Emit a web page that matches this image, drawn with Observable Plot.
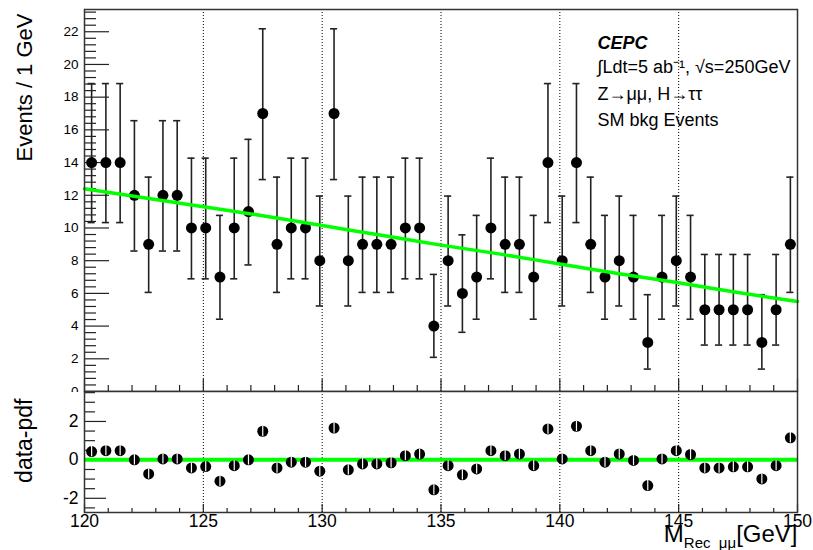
<!DOCTYPE html>
<html><head><meta charset="utf-8">
<script src="https://cdn.jsdelivr.net/npm/d3@7"></script>
<script src="https://cdn.jsdelivr.net/npm/@observablehq/plot@0.6"></script>
<style>
body{margin:0;background:#fff;}
#chart{position:relative;width:813px;height:550px;font-family:"Liberation Sans",Arial,Helvetica,sans-serif;}
#topPanel,#bottomPanel{position:absolute;left:0;}
#topPanel{top:0;}
#bottomPanel{top:390px;}
</style></head><body>
<div id="chart"><div id="topPanel"></div><div id="bottomPanel"></div></div>
<script>
// ---- data ----
const binLow = 120, binWidth = 0.6;
const counts = [14,14,14,12,9,12,12,10,10,7,10,11,17,9,10,10,8,17,8,9,9,9,10,10,4,8,6,7,10,9,9,7,14,8,14,9,7,8,7,3,7,8,7,5,5,5,5,3,5,9];
const pulls = [0.43,0.48,0.48,0.0,-0.73,0.05,0.05,-0.42,-0.35,-1.11,-0.3,0.0,1.49,-0.42,-0.12,-0.12,-0.59,1.66,-0.52,-0.21,-0.21,-0.15,0.22,0.3,-1.56,-0.3,-0.78,-0.47,0.48,0.22,0.31,-0.3,1.61,0.05,1.75,0.48,-0.12,0.31,-0.03,-1.34,0.05,0.48,0.28,-0.42,-0.42,-0.36,-0.36,-0.99,-0.3,1.15];
// Poisson error bar ends read per count value
const poissonN  = [3,4,5,6,7,8,9,10,11,12,14,17];
const poissonLo = [1.37,2.09,2.84,3.62,4.42,5.23,6.06,6.89,7.74,8.59,10.33,12.96];
const poissonHi = [5.92,7.16,8.38,9.58,10.77,11.95,13.11,14.27,15.42,16.56,18.83,22.18];
// fitted background pdf
const curveX = [120,122.5,125,127.5,130,132.5,135,137.5,140,142.5,145,147.5,150];
const curveY = [12.40,11.85,11.3,10.75,10.15,9.55,8.95,8.4,7.8,7.2,6.65,6.05,5.5];
// ticks
const gridX = [125,130,135,140,145];
const xMajor = [120,125,130,135,140,145,150];
const xMinor = [121,122,123,124,126,127,128,129,131,132,133,134,136,137,138,139,141,142,143,144,146,147,148,149];
const yMajorTop = [0,2,4,6,8,10,12,14,16,18,20,22];
const yMajorBot = [-2,0,2];
const yMinorBot = [-2.5,-1.5,-1,-0.5,0.5,1,1.5,2.5,3,3.5];
const annot = ["CEPC","∫Ldt=5 ab⁻¹, √s=250GeV","Z→μμ, H→ττ","SM bkg Events"];

// ---- build ----
const font = '"Liberation Sans", Arial, Helvetica, sans-serif';
const fmt = d => String(d);
const bins = counts.map((n, i) => {
  const k = poissonN.indexOf(n);
  return {x: binLow + binWidth * (i + 0.5), n, lo: poissonLo[k], hi: poissonHi[k], pull: pulls[i]};
});
const curve = curveX.map((x, i) => ({x, y: curveY[i]}));
const yMinorTop = d3.range(0, 23.3, 0.4).filter(v => Math.abs(v / 2 - Math.round(v / 2)) > 0.01);

const W = 813, ML = 84, MR = 16;
const innerW = W - ML - MR;

const topH = 392, topMT = 9, topMB = 1;
const topInner = topH - topMT - topMB;
const topPlot = Plot.plot({
  width: W, height: topH, marginLeft: ML, marginRight: MR, marginTop: topMT, marginBottom: topMB,
  style: {fontFamily: font, background: "transparent", overflow: "hidden", color: "#000"},
  x: {domain: [120, 150], axis: null},
  y: {domain: [0, 23.36], axis: null},
  marks: [
    Plot.ruleX(gridX, {x: d => d, stroke: "#000", strokeDasharray: "1,2", strokeWidth: 1}),
    Plot.axisY({ticks: yMajorTop, tickFormat: fmt, tickSize: 0, tickPadding: 6, fontSize: 13.5, label: null}),
    Plot.tickY(yMajorTop, {y: d => d, insetRight: innerW - 25, stroke: "#222", strokeWidth: 1.2}),
    Plot.tickY(yMinorTop, {y: d => d, insetRight: innerW - 12, stroke: "#222", strokeWidth: 1.2}),
    Plot.tickX(xMajor, {x: d => d, insetTop: topInner - 12, stroke: "#222", strokeWidth: 1.2}),
    Plot.tickX(xMinor, {x: d => d, insetTop: topInner - 6, stroke: "#222", strokeWidth: 1.2}),
    Plot.ruleX(bins, {x: "x", y1: "lo", y2: "hi", stroke: "#222", strokeWidth: 1.6}),
    Plot.ruleY(bins, {y: "hi", x1: d => d.x - 0.15, x2: d => d.x + 0.15, stroke: "#222", strokeWidth: 1.6}),
    Plot.ruleY(bins, {y: "lo", x1: d => d.x - 0.15, x2: d => d.x + 0.15, stroke: "#222", strokeWidth: 1.6}),
    Plot.dot(bins, {x: "x", y: "n", r: 5.5, fill: "#000", stroke: "none"}),
    Plot.line(curve, {x: "x", y: "y", stroke: "#00ff00", strokeWidth: 3.5, curve: "monotone-x"}),
    Plot.frame({stroke: "#333", strokeWidth: 1.5}),
    Plot.text(["Events / 1 GeV"], {frameAnchor: "top-left", rotate: -90, textAnchor: "end", lineAnchor: "middle", dx: -60, dy: 4, fontSize: 22}),
    Plot.text([annot[0]], {frameAnchor: "top-left", textAnchor: "start", lineAnchor: "bottom", dx: 513, dy: 39, fontSize: 18, fontWeight: "bold", fontStyle: "italic"}),
    Plot.text([annot[1]], {frameAnchor: "top-left", textAnchor: "start", lineAnchor: "bottom", dx: 513, dy: 63, fontSize: 18}),
    Plot.text([annot[2]], {frameAnchor: "top-left", textAnchor: "start", lineAnchor: "bottom", dx: 513, dy: 90, fontSize: 18}),
    Plot.text([annot[3]], {frameAnchor: "top-left", textAnchor: "start", lineAnchor: "bottom", dx: 513, dy: 116, fontSize: 18})
  ]
});
document.getElementById("topPanel").appendChild(topPlot);

const botH = 160, botMT = 1, botMB = 38;
const botInner = botH - botMT - botMB;
const botPlot = Plot.plot({
  width: W, height: botH, marginLeft: ML, marginRight: MR, marginTop: botMT, marginBottom: botMB,
  style: {fontFamily: font, background: "transparent", overflow: "visible", color: "#000"},
  x: {domain: [120, 150], axis: null},
  y: {domain: [-2.74, 3.56], axis: null},
  marks: [
    Plot.ruleX(gridX, {x: d => d, stroke: "#000", strokeDasharray: "1,2", strokeWidth: 1}),
    Plot.axisY({ticks: yMajorBot, tickFormat: fmt, tickSize: 0, tickPadding: 6, fontSize: 17.5, label: null}),
    Plot.axisX({ticks: xMajor, tickFormat: fmt, tickSize: 0, tickPadding: 2, fontSize: 17.5, label: null, anchor: "bottom"}),
    Plot.tickY(yMajorBot, {y: d => d, insetRight: innerW - 22, stroke: "#222", strokeWidth: 1.2}),
    Plot.tickY(yMinorBot, {y: d => d, insetRight: innerW - 11, stroke: "#222", strokeWidth: 1.2}),
    Plot.tickX(xMajor, {x: d => d, insetTop: botInner - 8, stroke: "#222", strokeWidth: 1.2}),
    Plot.tickX(xMinor, {x: d => d, insetTop: botInner - 4, stroke: "#222", strokeWidth: 1.2}),
    Plot.ruleY([0], {y: d => d, stroke: "#00ff00", strokeWidth: 4}),
    Plot.dot(bins, {x: "x", y: "pull", r: 5.5, fill: "#000", stroke: "none"}),
    Plot.ruleX(bins, {x: "x", y1: d => d.pull - 0.27, y2: d => d.pull + 0.27, stroke: "#fff", strokeWidth: 1.2}),
    Plot.frame({stroke: "#333", strokeWidth: 1.5}),
    Plot.text(["data-pdf"], {frameAnchor: "top-left", rotate: -90, textAnchor: "end", lineAnchor: "middle", dx: -60, dy: 7, fontSize: 23}),
    Plot.text(["M"], {frameAnchor: "bottom-right", textAnchor: "end", lineAnchor: "bottom", dx: 0, dy: 29, fontSize: 24})
  ]
});
document.getElementById("bottomPanel").appendChild(botPlot);
// x-axis title with subscript
for (const t of botPlot.querySelectorAll("text")) {
  if (t.textContent === "M") {
    t.innerHTML = 'M<tspan font-size="15" dy="6">Rec_μμ</tspan><tspan dy="-6">[GeV]</tspan>';
  }
}
</script>
</body></html>
